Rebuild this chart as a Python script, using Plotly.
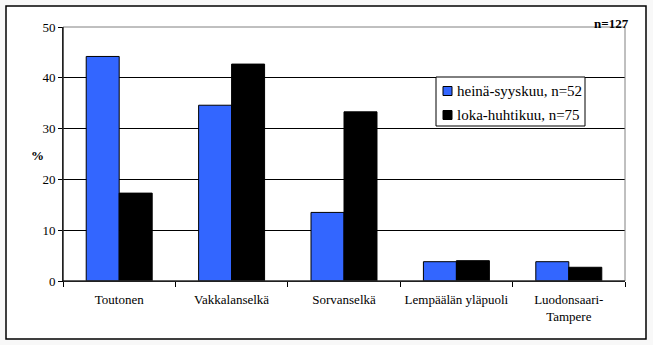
import plotly.graph_objects as go

categories = ["Toutonen", "Vakkalanselkä", "Sorvanselkä", "Lempäälän yläpuoli", "Luodonsaari-<br>Tampere"]
series_names = ["heinä-syyskuu, n=52", "loka-huhtikuu, n=75"]
summer = [44.2, 34.6, 13.5, 3.8, 3.8]
winter = [17.3, 42.7, 33.3, 4.0, 2.7]
y_ticks = [0, 10, 20, 30, 40, 50]
colors = ["#3366ff", "black"]

W, H = 653, 345
L, R, T, B = 63, 28, 27, 64
pw, ph = W - L - R, H - T - B

def px(x):
    return (x - L) / pw

def py(y):
    return (H - B - y) / ph

FONT = "'Liberation Serif', 'Times New Roman', 'DejaVu Serif', serif"

fig = go.Figure()
for name, vals, col in zip(series_names, [summer, winter], colors):
    fig.add_trace(go.Bar(x=categories, y=vals, name=name,
                         marker=dict(color=col, line=dict(color="black", width=1))))

shapes = [
    dict(type="rect", xref="paper", yref="paper",
         x0=px(6), x1=px(646), y0=py(339), y1=py(6),
         line=dict(color="black", width=1.5), fillcolor="white", layer="below"),
    dict(type="rect", xref="paper", yref="paper",
         x0=0, x1=1, y0=0, y1=1,
         line=dict(color="#808080", width=1), fillcolor="rgba(0,0,0,0)", layer="above"),
    dict(type="line", xref="paper", yref="paper",
         x0=0, x1=0, y0=0, y1=1, line=dict(color="black", width=1), layer="above"),
    dict(type="line", xref="paper", yref="paper",
         x0=0, x1=1, y0=0, y1=0, line=dict(color="black", width=1), layer="above"),
    # legend box
    dict(type="rect", xref="paper", yref="paper",
         x0=px(436), x1=px(585), y0=py(126), y1=py(77),
         line=dict(color="black", width=1), fillcolor="white", layer="above"),
]
annotations = [
    dict(text="<b>%</b>", xref="paper", yref="paper", x=px(29), y=py(155),
         showarrow=False, font=dict(family=FONT, size=13)),
    dict(text="<b>n=127</b>", xref="paper", yref="paper", x=px(631), y=py(14),
         xanchor="right", showarrow=False, font=dict(family=FONT, size=13)),
]
for i, (name, col) in enumerate(zip(series_names, colors)):
    cy = 91 + i * 24
    shapes.append(dict(type="rect", xref="paper", yref="paper",
                       x0=px(443), x1=px(452), y0=py(cy + 4.5), y1=py(cy - 4.5),
                       line=dict(color="black", width=1), fillcolor=col, layer="above"))
    annotations.append(dict(text=name, xref="paper", yref="paper", x=px(455), y=py(cy),
                            xanchor="left", yanchor="middle", showarrow=False,
                            font=dict(family=FONT, size=15, color="black")))

fig.update_layout(
    width=W, height=H,
    margin=dict(l=L, r=R, t=T, b=B, pad=0, autoexpand=False),
    paper_bgcolor="#f8f8f8",
    plot_bgcolor="rgba(0,0,0,0)",
    barmode="group",
    bargap=0.413,
    bargroupgap=0,
    font=dict(family=FONT, size=12, color="black"),
    showlegend=False,
    xaxis=dict(showline=True, linecolor="black", linewidth=1,
               ticks="outside", ticklen=5, tickcolor="black",
               tickson="boundaries", showgrid=False, ticklabelstandoff=6,
               tickangle=0, automargin=False,
               tickfont=dict(family=FONT, size=13)),
    yaxis=dict(range=[0, 50], tickvals=y_ticks, showline=True, linecolor="black",
               linewidth=1, ticks="outside", ticklen=4, tickcolor="black",
               showgrid=True, gridcolor="black", gridwidth=1, zeroline=False,
               automargin=False,
               tickfont=dict(family=FONT, size=13)),
    shapes=shapes,
    annotations=annotations,
)

fig.write_html("out.html")
